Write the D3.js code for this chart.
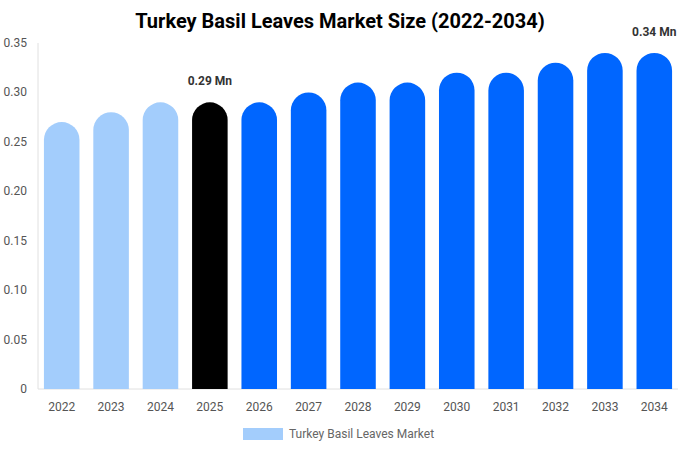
<!DOCTYPE html>
<html>
<head>
<meta charset="utf-8">
<script src="https://cdn.jsdelivr.net/npm/d3@7"></script>
<style>
  body { margin: 0; font-family: Roboto, "Liberation Sans", Arial, sans-serif; background: #fff; }
</style>
</head>
<body>
<svg id="chart" width="680" height="450"></svg>
<script>
const years = ["2022","2023","2024","2025","2026","2027","2028","2029","2030","2031","2032","2033","2034"];
const values = [0.27, 0.28, 0.29, 0.29, 0.29, 0.30, 0.31, 0.31, 0.32, 0.32, 0.33, 0.34, 0.34];
const yTicks = [0, 0.05, 0.10, 0.15, 0.20, 0.25, 0.30, 0.35];
const labelled = {"2025": "0.29 Mn", "2034": "0.34 Mn"};

const svg = d3.select("#chart");
const margin = { left: 38, right: 2, top: 43, bottom: 61 };
const width = 680, height = 450;

const x = d3.scaleBand().domain(years)
    .range([margin.left, width - margin.right]).paddingInner(0.28).paddingOuter(0.12);
const y = d3.scaleLinear().domain([0, 0.35]).range([height - margin.bottom, margin.top]);

const color = (yr, i) => yr === "2025" ? "#000000" : (i < 3 ? "#a3cdfc" : "#0066ff");

svg.append("text")
    .attr("x", width / 2).attr("y", 28)
    .attr("text-anchor", "middle")
    .attr("font-size", 20).attr("font-weight", "bold")
    .text("Turkey Basil Leaves Market Size (2022-2034)");

// axes
svg.append("line")
    .attr("x1", margin.left).attr("x2", margin.left)
    .attr("y1", margin.top).attr("y2", y(0))
    .attr("stroke", "#e0e0e0");
svg.append("line")
    .attr("x1", margin.left).attr("x2", width - margin.right)
    .attr("y1", y(0)).attr("y2", y(0))
    .attr("stroke", "#e0e0e0");

svg.selectAll(".ytick").data(yTicks).enter().append("text")
    .attr("x", 27).attr("y", d => y(d) + 4)
    .attr("text-anchor", "end")
    .attr("font-size", 12).attr("fill", "#555")
    .text(d => d === 0 ? "0" : d.toFixed(2));

svg.selectAll(".xtick").data(years).enter().append("text")
    .attr("x", d => x(d) + x.bandwidth() / 2).attr("y", y(0) + 22)
    .attr("text-anchor", "middle")
    .attr("font-size", 12).attr("fill", "#555")
    .text(d => d);

// bars with rounded tops
const bw = x.bandwidth();
const r = bw / 2;
svg.selectAll(".bar").data(values).enter().append("path")
    .attr("fill", (d, i) => color(years[i], i))
    .attr("d", (d, i) => {
        const x0 = x(years[i]), top = y(d), bottom = y(0);
        return `M${x0},${bottom}L${x0},${top + r}A${r},${r} 0 0 1 ${x0 + bw},${top + r}L${x0 + bw},${bottom}Z`;
    });

svg.selectAll(".vlabel").data(years.filter(d => labelled[d])).enter().append("text")
    .attr("x", d => Math.min(x(d) + bw / 2, width - 25))
    .attr("y", d => y(values[years.indexOf(d)]) - 17)
    .attr("text-anchor", "middle")
    .attr("font-size", 12).attr("font-weight", "bold").attr("fill", "#333")
    .text(d => labelled[d]);

// legend
svg.append("rect").attr("x", 243).attr("y", 428).attr("width", 40).attr("height", 12).attr("fill", "#a3cdfc");
svg.append("text").attr("x", 289).attr("y", 438)
    .attr("font-size", 12).attr("fill", "#666")
    .text("Turkey Basil Leaves Market");
</script>
</body>
</html>
